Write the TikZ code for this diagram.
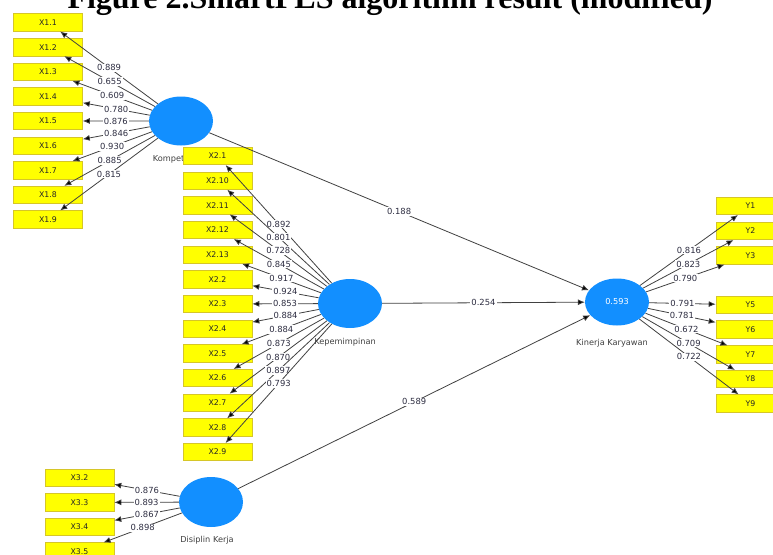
\documentclass[tikz,border=0pt]{standalone}
\usepackage{fontspec}
\setmainfont{Liberation Serif}
\newfontfamily\uifont{DejaVu Sans}
\usetikzlibrary{shapes.geometric,arrows.meta}
\definecolor{latblue}{RGB}{18,143,255}
\definecolor{indfill}{RGB}{255,255,0}
\definecolor{indline}{RGB}{214,198,40}
\definecolor{linecol}{RGB}{65,65,65}
\definecolor{lblcol}{RGB}{45,45,65}
\begin{document}
\begin{tikzpicture}[x=1pt,y=-1pt,
  ind/.style={draw=indline, fill=indfill, line width=0.6pt, minimum width=69pt, minimum height=17.5pt, inner sep=0pt, font=\uifont\fontsize{7.8}{8}\selectfont, text=black!85},
  lat/.style={ellipse, fill=latblue, minimum width=64pt, minimum height=49pt, inner sep=0pt},
  lvcap/.style={inner sep=0pt, font=\uifont\fontsize{8.2}{9}\selectfont, text=black!75},
  lbl/.style={fill=white, inner sep=1pt, font=\uifont\fontsize{8.4}{9}\selectfont, text=lblcol},
  con/.style={draw=linecol, line width=0.8pt, -{Latex[length=7pt,width=6pt,fill=black]}}
]
\path[use as bounding box] (0,0) rectangle (773,554);
\clip (0,0) rectangle (773,554);
\fill[white] (0,0) rectangle (773,554);

% title (cut at the top)
\node[font=\bfseries\fontsize{32}{34}\selectfont, anchor=base, inner sep=0pt] (title) at (390,9) {Figure 2.SmartPLS algorithm result (modified)};

% latent variables
\node[lat] (K) at (181,121) {};
\node[lvcap] (Kc) at (177,159) {Kompetensi};
\node[lat] (P) at (350,303.5) {};
\node[lvcap] (Pc) at (345,342) {Kepemimpinan};
\node[lat, minimum height=47pt] (KK) at (617,302) {};
\node[font=\uifont\fontsize{8.2}{9}\selectfont, text=white, inner sep=0pt] (R2) at (617,302) {0.593};
\node[lvcap] (KKc) at (612,343) {Kinerja Karyawan};
\node[lat, minimum height=50pt] (D) at (211,502) {};
\node[lvcap] (Dc) at (207,540) {Disiplin Kerja};

% indicators
\foreach \i in {1,...,9}
  \node[ind] (x1-\i) at (48,{22.5+24.62*(\i-1)}) {X1.\i};
\foreach \t [count=\i] in {1,10,11,12,13,2,3,4,5,6,7,8,9}
  \node[ind] (x2-\i) at (217.5,{156+24.67*(\i-1)}) {X2.\t};
\foreach \t/\y [count=\i] in {2/478,3/502.5,4/527,5/551.5}
  \node[ind] (x3-\i) at (79.5,\y) {X3.\t};
\foreach \t/\y [count=\i] in {1/206,2/231,3/255.5,5/305,6/329.5,7/354.5,8/379,9/403.5}
  \node[ind] (y-\i) at (750.5,\y) {Y\t};

% outer loadings
\foreach \v [count=\i] in {0.889,0.655,0.609,0.780,0.876,0.846,0.930,0.885,0.815}
  \draw[con] (K) -- node[lbl]{\v} (x1-\i);
\foreach \v [count=\i] in {0.892,0.801,0.728,0.845,0.917,0.924,0.853,0.884,0.884,0.873,0.870,0.897,0.793}
  \draw[con] (P) -- node[lbl]{\v} (x2-\i);
\foreach \v [count=\i] in {0.876,0.893,0.867,0.898}
  \draw[con] (D) -- node[lbl]{\v} (x3-\i);
\foreach \v [count=\i] in {0.816,0.823,0.790,0.791,0.781,0.672,0.709,0.722}
  \draw[con] (KK) -- node[lbl]{\v} (y-\i);

% path coefficients
\draw[con] (K) -- node[lbl]{0.188} (KK);
\draw[con] (P) -- node[lbl]{0.254} (KK);
\draw[con] (D) -- node[lbl]{0.589} (KK);
\end{tikzpicture}
\end{document}
